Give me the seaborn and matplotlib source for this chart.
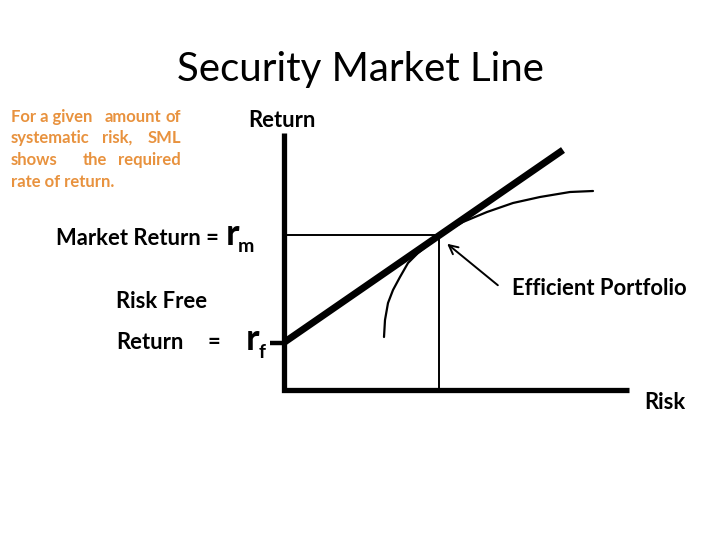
import numpy as np
import pandas as pd
import seaborn as sn
import matplotlib.pyplot as plt

# chart values (risk / return units)
axis_risk = [0.0, 0.0, 3.45]
axis_return = [2.57, 0.0, 0.0]
rf = 0.475
market_risk = 1.55
market_return = 1.55
sml_risk = [0.0, 2.79]
sml_return = [0.475, 2.40]
frontier_risk = [1.00, 1.01, 1.04, 1.09, 1.16, 1.24, 1.34, 1.44, 1.56,
                 1.79, 2.03, 2.29, 2.56, 2.86, 3.09]
frontier_return = [0.53, 0.70, 0.87, 1.00, 1.13, 1.27, 1.37, 1.45, 1.55,
                   1.68, 1.78, 1.87, 1.93, 1.98, 1.99]

sn.set_theme(style="white")
plt.rcParams['font.family'] = ['Lato', 'DejaVu Sans']
plt.rcParams['text.color'] = 'black'

W, H = 720, 540
fig = plt.figure(figsize=(7.2, 5.4), dpi=100)
ax = fig.add_axes([0, 0, 1, 1])

def fx(x):
    return x / W

def fy(y):
    return 1 - y / H

#axes of the diagram
ax.plot(axis_risk, axis_return, color="black", lw=3.8, solid_joinstyle="miter",
        solid_capstyle="butt")
ax.plot([-0.14, 0], [rf, rf], color="black", lw=3.2, solid_capstyle="butt")

#guide lines to the market portfolio
ax.plot([0, market_risk], [market_return, market_return], color="black", lw=1.4)
ax.plot([market_risk, market_risk], [0, market_return], color="black", lw=1.4)

#efficient frontier
fr = pd.DataFrame({"risk": frontier_risk, "ret": frontier_return})
sn.lineplot(data=fr, x="risk", y="ret", sort=False, estimator=None, color="black", lw=1.6, ax=ax)

#security market line
sml = pd.DataFrame({"risk": sml_risk, "ret": sml_return})
sn.lineplot(data=sml, x="risk", y="ret", sort=False, estimator=None, color="black", lw=5,
            ax=ax, solid_capstyle="butt")
ax.set_xlim(-2.84, 4.36)
ax.set_ylim(-1.50, 3.90)
ax.axis("off")

ax.annotate("", xy=(market_risk + 0.06, market_return - 0.07), xytext=(2.16, 1.03),
            arrowprops=dict(arrowstyle="->", lw=1.4, color="black", mutation_scale=16))

#texts
lab = 15.8
fig.text(fx(360), fy(81), "Security Market Line", fontsize=29, ha="center", va="baseline")
fig.text(fx(248), fy(127), "Return", fontsize=lab, weight="bold", va="baseline")
fig.text(fx(56), fy(245), "Market Return =", fontsize=lab, weight="bold", va="baseline")
fig.text(fx(226), fy(245), "r", fontsize=26, weight="bold", va="baseline")
fig.text(fx(238), fy(252), "m", fontsize=14, weight="bold", va="baseline")
fig.text(fx(116), fy(308), "Risk Free", fontsize=lab, weight="bold", va="baseline")
fig.text(fx(116), fy(349), "Return", fontsize=lab, weight="bold", va="baseline")
fig.text(fx(208), fy(349), "=", fontsize=lab, weight="bold", va="baseline")
fig.text(fx(246), fy(350), "r", fontsize=26, weight="bold", va="baseline")
fig.text(fx(259), fy(358), "f", fontsize=14, weight="bold", va="baseline")
fig.text(fx(512), fy(295), "Efficient Portfolio", fontsize=lab, weight="bold", va="baseline")
fig.text(fx(644), fy(409), "Risk", fontsize=lab, weight="bold", va="baseline")

#justified note in orange
orange = "#E8923E"
note_lines = [
    ["For a given", "amount", "of"],
    ["systematic", "risk,", "SML"],
    ["shows", "the", "required"],
    ["rate of return."],
]
note_base = [122, 143, 165, 187]
mid_x = [133, 117, 95, None]
for words, yb, mx in zip(note_lines, note_base, mid_x):
    fig.text(fx(11), fy(yb), words[0], fontsize=12, weight="bold", color=orange, va="baseline")
    if len(words) == 3:
        fig.text(fx(mx), fy(yb), words[1], fontsize=12, weight="bold", color=orange,
                 va="baseline", ha="center")
    if len(words) > 1:
        fig.text(fx(181), fy(yb), words[-1], fontsize=12, weight="bold", color=orange,
                 va="baseline", ha="right")

plt.savefig("out.png", dpi=100)
